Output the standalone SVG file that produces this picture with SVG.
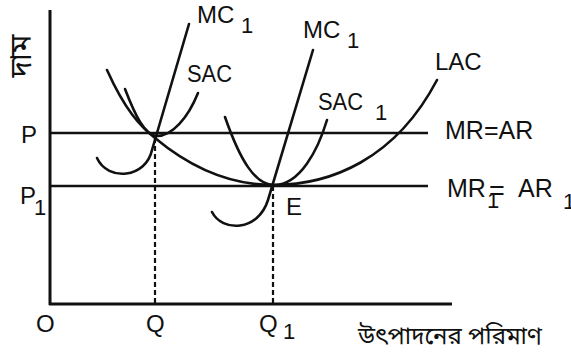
<svg xmlns="http://www.w3.org/2000/svg" width="571" height="356" viewBox="0 0 571 356">
<style>
.ax{stroke:#111;stroke-width:3;fill:none}
.ln{stroke:#111;stroke-width:2.6;fill:none}
.cv{stroke:#111;stroke-width:2.6;fill:none;stroke-linecap:round}
.ds{stroke:#111;stroke-width:2.2;fill:none;stroke-dasharray:5,3}
text{font-family:"Liberation Sans",Arial,sans-serif;font-size:24px;fill:#111}
.sub{font-size:22px}
.bn{font-family:"Noto Sans Bengali","Lohit Bengali","Noto Sans","Noto Sans CJK SC",sans-serif;font-size:24px}
</style>
<rect width="571" height="356" fill="#fff"/>
<g id="axes">
<path class="ax" d="M50,10 L50,305"/>
<path class="ax" d="M49,304 L452,304"/>
<text x="36" y="332">O</text>
<text class="bn" x="358" y="344">উৎপাদনের পরিমাণ</text>
<text class="bn" transform="translate(31,56) rotate(-90)" text-anchor="middle" style="font-size:30px">দাম</text>
</g>
<g id="connectors">
<path class="ln" d="M50,133 L428,133"/>
<path class="ln" d="M50,186 L428,186"/>
<path class="ds" d="M155,138 L155,304"/>
<path class="ds" d="M273,186 L273,304"/>
</g>
<g id="lac">
<path class="cv" d="M107,70 C125,110 140,126 155,138 C185,163 225,185 273,185 C330,185 395,160 437,80"/>
<text x="435" y="70">LAC</text>
</g>
<g id="sac">
<path class="cv" d="M125,89 C135,115 145,136 157,136 C172,136 188,118 198,93"/>
<text x="187" y="82" textLength="45" lengthAdjust="spacingAndGlyphs">SAC</text>
</g>
<g id="mc">
<path class="cv" d="M97,158 C108,182 146,178 152,150 L189,24"/>
<text x="197" y="23">MC</text>
<text class="sub" x="241" y="33">1</text>
</g>
<g id="sac1">
<path class="cv" d="M225,117 C240,160 255,185 274,185 C300,185 318,150 327,120"/>
<text x="318" y="110" textLength="45" lengthAdjust="spacingAndGlyphs">SAC</text>
<text class="sub" x="375" y="120">1</text>
</g>
<g id="mc1">
<path class="cv" d="M212,212 C222,232 258,232 268,200 L313,50"/>
<text x="303" y="38">MC</text>
<text class="sub" x="347" y="48">1</text>
</g>
<g id="mr-ar">
<text x="445" y="139" style="font-size:25px">MR=AR</text>
</g>
<g id="mr1-ar1">
<text x="447" y="197" style="font-size:25px">MR</text>
<text class="sub" x="487" y="208">1</text>
<text x="489" y="200" style="font-size:27px">=</text>
<text x="518" y="197" style="font-size:25px">AR</text>
<text class="sub" x="563" y="209">1</text>
</g>
<g id="p">
<text x="21" y="143">P</text>
</g>
<g id="p1">
<text x="20" y="204">P</text>
<text class="sub" x="34" y="215">1</text>
</g>
<g id="q">
<text x="146" y="332">Q</text>
</g>
<g id="q1">
<text x="259" y="332">Q</text>
<text class="sub" x="283" y="339">1</text>
</g>
<g id="e">
<text x="286" y="215">E</text>
</g>
</svg>
